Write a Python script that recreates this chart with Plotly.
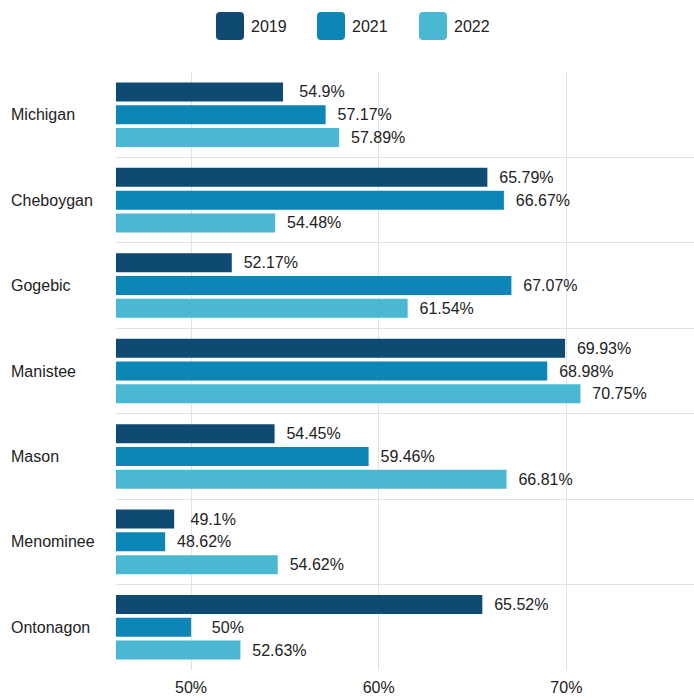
import plotly.graph_objects as go

categories = ["Michigan", "Cheboygan", "Gogebic", "Manistee", "Mason", "Menominee", "Ontonagon"]
years = ["2019", "2021", "2022"]
values_2019 = [54.9, 65.79, 52.17, 69.93, 54.45, 49.1, 65.52]
values_2021 = [57.17, 66.67, 67.07, 68.98, 59.46, 48.62, 50]
values_2022 = [57.89, 54.48, 61.54, 70.75, 66.81, 54.62, 52.63]
labels_2019 = ["54.9%", "65.79%", "52.17%", "69.93%", "54.45%", "49.1%", "65.52%"]
labels_2021 = ["57.17%", "66.67%", "67.07%", "68.98%", "59.46%", "48.62%", "50%"]
labels_2022 = ["57.89%", "54.48%", "61.54%", "70.75%", "66.81%", "54.62%", "52.63%"]
x_ticks = [50, 60, 70]
x_tick_labels = ["50%", "60%", "70%"]

colors = ["#0f4a73", "#0b86b7", "#4ab8d2"]
FONT = "Liberation Sans, Arial, Helvetica, sans-serif"
FS = 16
TEXT_COLOR = "#222222"


def text_width(s):
    w = 0.0
    for ch in s:
        if ch.isdigit():
            w += 0.556
        elif ch == ".":
            w += 0.278
        elif ch == "%":
            w += 0.889
        else:
            w += 0.556
    return w * FS


def padded(s):
    # labels are centred ~40px past the bar end
    pad_px = 40 - text_width(s) / 2 - 5
    n = max(0, round(pad_px / (0.278 * FS)))
    return "\u00a0" * n + s


fig = go.Figure()
series = [values_2019, values_2021, values_2022]
label_sets = [labels_2019, labels_2021, labels_2022]
for yr, vals, labs, col in zip(years, series, label_sets, colors):
    fig.add_trace(go.Bar(
        y=categories, x=vals, name=yr, orientation="h",
        marker=dict(color=col, line=dict(width=0)),
        text=[padded(l) for l in labs], textposition="outside",
        textfont=dict(family=FONT, size=FS, color=TEXT_COLOR),
        constraintext="none", cliponaxis=False, showlegend=False,
    ))

# category labels, left aligned
for c in categories:
    fig.add_annotation(x=0, xref="paper", y=c, yref="y", text=c, showarrow=False,
                       xanchor="left", yanchor="middle", xshift=-107,
                       font=dict(family=FONT, size=FS, color=TEXT_COLOR))

# custom legend
legend_x = [216, 317, 419]  # pixel left of each legend swatch
plot_left = 116
plot_top = 72
for yr, col, lx in zip(years, colors, legend_x):
    x0 = lx - plot_left
    s = 28
    r = 4
    ybot = plot_top - 40
    ytop = plot_top - 12
    path = (f"M {x0 + r} {ybot} L {x0 + s - r} {ybot} Q {x0 + s} {ybot} {x0 + s} {ybot + r} "
            f"L {x0 + s} {ytop - r} Q {x0 + s} {ytop} {x0 + s - r} {ytop} "
            f"L {x0 + r} {ytop} Q {x0} {ytop} {x0} {ytop - r} L {x0} {ybot + r} Q {x0} {ybot} {x0 + r} {ybot} Z")
    fig.add_shape(type="path", path=path, xref="paper", yref="paper",
                  xsizemode="pixel", ysizemode="pixel", xanchor=0, yanchor=1.0,
                  fillcolor=col, line=dict(width=0))
    fig.add_annotation(x=0, xref="paper", y=1.0, yref="paper", text=yr, showarrow=False,
                       xanchor="left", yanchor="middle", xshift=x0 + s + 5, yshift=plot_top - 26,
                       font=dict(family=FONT, size=FS, color=TEXT_COLOR))

fig.update_layout(
    width=694, height=698,
    margin=dict(l=116, r=0, t=72, b=28, autoexpand=False),
    plot_bgcolor="white", paper_bgcolor="white",
    barmode="group", bargap=0.2, bargroupgap=0.167,
    font=dict(family=FONT, size=FS, color=TEXT_COLOR),
)
fig.update_xaxes(range=[46, 76.8], tickvals=x_ticks, ticktext=x_tick_labels,
                 showgrid=True, gridcolor="#e2e2e2", gridwidth=1, zeroline=False,
                 showline=False, ticks="", ticklabelstandoff=6, automargin=False,
                 tickfont=dict(family=FONT, size=FS, color=TEXT_COLOR), fixedrange=True)
fig.update_yaxes(categoryorder="array", categoryarray=categories, autorange="reversed",
                 tickson="boundaries", showgrid=True, gridcolor="#e2e2e2", gridwidth=1,
                 showticklabels=False, ticks="", showline=False, zeroline=False,
                 automargin=False, fixedrange=True)

fig.write_html("out.html", config={"displayModeBar": False},
               post_script="document.body.style.margin='0';document.body.style.overflow='hidden';")
